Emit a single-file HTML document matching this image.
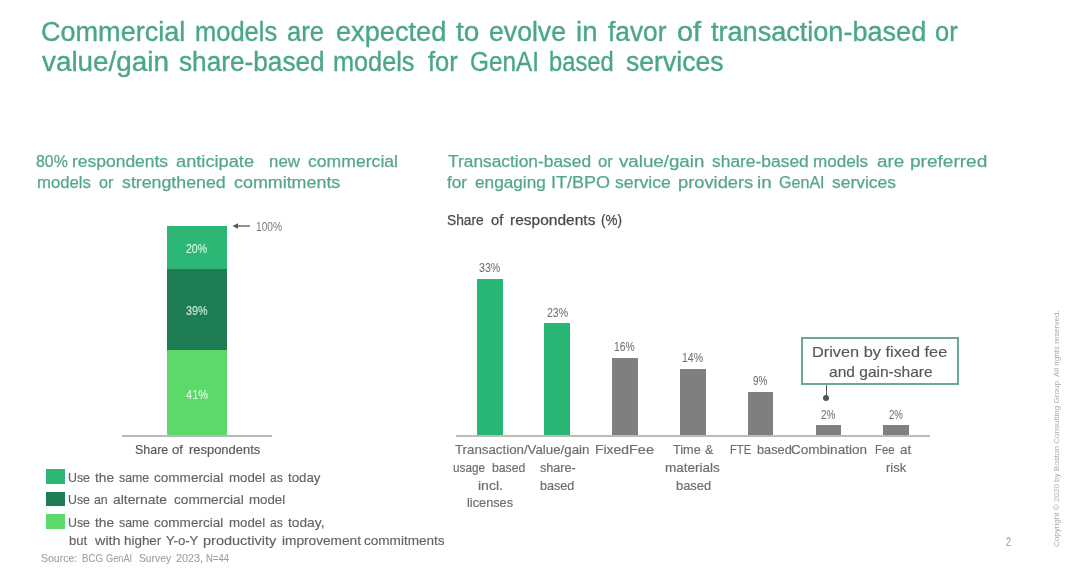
<!DOCTYPE html>
<html><head><meta charset="utf-8">
<style>
html,body{margin:0;padding:0;background:#fff;}
body{width:1080px;height:577px;position:relative;overflow:hidden;filter:blur(0.4px);font-family:"Liberation Sans",sans-serif;}
.t{position:absolute;white-space:pre;transform-origin:0 0;}
.r{position:absolute;}
</style></head><body>
<!-- left stacked bar -->
<div class="r" style="left:167.4px;top:225.8px;width:59.6px;height:43.5px;background:#2db775"></div>
<div class="r" style="left:167.4px;top:269.3px;width:59.6px;height:80.3px;background:#1e7d55"></div>
<div class="r" style="left:167.4px;top:349.6px;width:59.6px;height:86px;background:#5dd86a"></div>
<div class="r" style="left:122px;top:435px;width:149.5px;height:1.5px;background:#b8b8b8"></div>
<svg class="r" style="left:228px;top:220px" width="26" height="12" viewBox="0 0 26 12">
  <line x1="6" y1="6" x2="22" y2="6" stroke="#555" stroke-width="1.3"/>
  <polygon points="4.5,6 10,3.2 10,8.8" fill="#555"/>
</svg>
<!-- right bars -->
<div class="r" style="left:476.8px;top:278.7px;width:25.9px;height:157.1px;background:#27b673"></div>
<div class="r" style="left:544.2px;top:323.3px;width:25.9px;height:112.5px;background:#27b673"></div>
<div class="r" style="left:612.4px;top:357.6px;width:25.7px;height:78.2px;background:#7f7f7f"></div>
<div class="r" style="left:680.1px;top:368.7px;width:25.7px;height:67.1px;background:#7f7f7f"></div>
<div class="r" style="left:748.4px;top:391.6px;width:25.1px;height:44.2px;background:#7f7f7f"></div>
<div class="r" style="left:815.7px;top:425.3px;width:25.4px;height:10.5px;background:#7f7f7f"></div>
<div class="r" style="left:883.4px;top:425.3px;width:25.8px;height:10.5px;background:#7f7f7f"></div>
<div class="r" style="left:456px;top:435.2px;width:474px;height:1.5px;background:#bcbcbc"></div>
<!-- callout -->
<div class="r" style="left:801px;top:337px;width:154px;height:44px;border:2px solid #6aa898;"></div>
<div class="r" style="left:825.6px;top:385px;width:1.4px;height:11px;background:#5a5a5a"></div>
<div class="r" style="left:823.1px;top:394.6px;width:6.2px;height:6.2px;border-radius:50%;background:#555"></div>
<!-- legend squares -->
<div class="r" style="left:46px;top:469.3px;width:18.6px;height:14.4px;background:#2db775"></div>
<div class="r" style="left:46px;top:491.5px;width:18.6px;height:14.4px;background:#1e7d55"></div>
<div class="r" style="left:46px;top:514.2px;width:18.6px;height:14.4px;background:#5dd86a"></div>
<!-- copyright -->
<div class="t" style="left:1053px;top:547px;font-size:7.5px;line-height:7.5px;color:#ababab;transform:rotate(-90deg) scaleX(1.075);transform-origin:0 0;">Copyright © 2020 by Boston Consulting Group. All rights reserved.</div>
<div class="t" style="left:40.70px;top:19.44px;font-size:27px;line-height:27px;color:#4ba785;transform:scaleX(1.0020);-webkit-text-stroke:0.38px #4ba785;">Commercial</div>
<div class="t" style="left:195.06px;top:19.44px;font-size:27px;line-height:27px;color:#4ba785;transform:scaleX(0.9434);-webkit-text-stroke:0.38px #4ba785;">models</div>
<div class="t" style="left:287.35px;top:19.44px;font-size:27px;line-height:27px;color:#4ba785;transform:scaleX(0.9458);-webkit-text-stroke:0.38px #4ba785;">are</div>
<div class="t" style="left:335.69px;top:19.44px;font-size:27px;line-height:27px;color:#4ba785;transform:scaleX(1.0068);-webkit-text-stroke:0.38px #4ba785;">expected</div>
<div class="t" style="left:456.00px;top:19.44px;font-size:27px;line-height:27px;color:#4ba785;transform:scaleX(1.0371);-webkit-text-stroke:0.38px #4ba785;">to</div>
<div class="t" style="left:489.01px;top:19.44px;font-size:27px;line-height:27px;color:#4ba785;transform:scaleX(0.9864);-webkit-text-stroke:0.38px #4ba785;">evolve</div>
<div class="t" style="left:576.28px;top:19.44px;font-size:27px;line-height:27px;color:#4ba785;transform:scaleX(1.0211);-webkit-text-stroke:0.38px #4ba785;">in</div>
<div class="t" style="left:608.30px;top:19.44px;font-size:27px;line-height:27px;color:#4ba785;transform:scaleX(0.9728);-webkit-text-stroke:0.38px #4ba785;">favor</div>
<div class="t" style="left:676.78px;top:19.44px;font-size:27px;line-height:27px;color:#4ba785;transform:scaleX(1.0715);-webkit-text-stroke:0.38px #4ba785;">of</div>
<div class="t" style="left:711.00px;top:19.44px;font-size:27px;line-height:27px;color:#4ba785;transform:scaleX(1.0027);-webkit-text-stroke:0.38px #4ba785;">transaction-based</div>
<div class="t" style="left:935.16px;top:19.44px;font-size:27px;line-height:27px;color:#4ba785;transform:scaleX(0.9428);-webkit-text-stroke:0.38px #4ba785;">or</div>
<div class="t" style="left:41.76px;top:49.44px;font-size:27px;line-height:27px;color:#4ba785;transform:scaleX(1.0311);-webkit-text-stroke:0.38px #4ba785;">value/gain</div>
<div class="t" style="left:179.30px;top:49.44px;font-size:27px;line-height:27px;color:#4ba785;transform:scaleX(0.9706);-webkit-text-stroke:0.38px #4ba785;">share-based</div>
<div class="t" style="left:333.46px;top:49.44px;font-size:27px;line-height:27px;color:#4ba785;transform:scaleX(0.9353);-webkit-text-stroke:0.38px #4ba785;">models</div>
<div class="t" style="left:428.00px;top:49.44px;font-size:27px;line-height:27px;color:#4ba785;transform:scaleX(0.9455);-webkit-text-stroke:0.38px #4ba785;">for</div>
<div class="t" style="left:469.80px;top:49.44px;font-size:27px;line-height:27px;color:#4ba785;transform:scaleX(0.9008);-webkit-text-stroke:0.38px #4ba785;">GenAI</div>
<div class="t" style="left:549.45px;top:49.44px;font-size:27px;line-height:27px;color:#4ba785;transform:scaleX(0.8783);-webkit-text-stroke:0.38px #4ba785;">based</div>
<div class="t" style="left:626.30px;top:49.44px;font-size:27px;line-height:27px;color:#4ba785;transform:scaleX(0.9846);-webkit-text-stroke:0.38px #4ba785;">services</div>
<div class="t" style="left:36.04px;top:153.66px;font-size:16px;line-height:16px;color:#54a789;transform:scaleX(0.9943);-webkit-text-stroke:0.25px #54a789;">80%</div>
<div class="t" style="left:71.91px;top:153.66px;font-size:16px;line-height:16px;color:#54a789;transform:scaleX(1.0912);-webkit-text-stroke:0.25px #54a789;">respondents</div>
<div class="t" style="left:176.20px;top:153.66px;font-size:16px;line-height:16px;color:#54a789;transform:scaleX(1.1400);-webkit-text-stroke:0.25px #54a789;">anticipate</div>
<div class="t" style="left:268.54px;top:153.66px;font-size:16px;line-height:16px;color:#54a789;transform:scaleX(1.0557);-webkit-text-stroke:0.25px #54a789;">new</div>
<div class="t" style="left:308.20px;top:153.66px;font-size:16px;line-height:16px;color:#54a789;transform:scaleX(1.1005);-webkit-text-stroke:0.25px #54a789;">commercial</div>
<div class="t" style="left:36.75px;top:174.66px;font-size:16px;line-height:16px;color:#54a789;transform:scaleX(1.0459);-webkit-text-stroke:0.25px #54a789;">models</div>
<div class="t" style="left:99.36px;top:174.66px;font-size:16px;line-height:16px;color:#54a789;transform:scaleX(1.0061);-webkit-text-stroke:0.25px #54a789;">or</div>
<div class="t" style="left:121.70px;top:174.66px;font-size:16px;line-height:16px;color:#54a789;transform:scaleX(1.1102);-webkit-text-stroke:0.25px #54a789;">strengthened</div>
<div class="t" style="left:234.40px;top:174.66px;font-size:16px;line-height:16px;color:#54a789;transform:scaleX(1.1175);-webkit-text-stroke:0.25px #54a789;">commitments</div>
<div class="t" style="left:447.80px;top:153.66px;font-size:16px;line-height:16px;color:#54a789;transform:scaleX(1.0845);-webkit-text-stroke:0.25px #54a789;">Transaction-based</div>
<div class="t" style="left:598.20px;top:153.66px;font-size:16px;line-height:16px;color:#54a789;transform:scaleX(1.0404);-webkit-text-stroke:0.25px #54a789;">or</div>
<div class="t" style="left:619.40px;top:153.66px;font-size:16px;line-height:16px;color:#54a789;transform:scaleX(1.1701);-webkit-text-stroke:0.25px #54a789;">value/gain</div>
<div class="t" style="left:712.00px;top:153.66px;font-size:16px;line-height:16px;color:#54a789;transform:scaleX(1.0881);-webkit-text-stroke:0.25px #54a789;">share-based</div>
<div class="t" style="left:813.43px;top:153.66px;font-size:16px;line-height:16px;color:#54a789;transform:scaleX(1.0677);-webkit-text-stroke:0.25px #54a789;">models</div>
<div class="t" style="left:877.00px;top:153.66px;font-size:16px;line-height:16px;color:#54a789;transform:scaleX(1.1754);-webkit-text-stroke:0.25px #54a789;">are</div>
<div class="t" style="left:909.81px;top:153.66px;font-size:16px;line-height:16px;color:#54a789;transform:scaleX(1.1900);-webkit-text-stroke:0.25px #54a789;">preferred</div>
<div class="t" style="left:447.00px;top:174.66px;font-size:16px;line-height:16px;color:#54a789;transform:scaleX(1.0753);-webkit-text-stroke:0.25px #54a789;">for</div>
<div class="t" style="left:474.80px;top:174.66px;font-size:16px;line-height:16px;color:#54a789;transform:scaleX(1.0748);-webkit-text-stroke:0.25px #54a789;">engaging</div>
<div class="t" style="left:550.87px;top:174.66px;font-size:16px;line-height:16px;color:#54a789;transform:scaleX(1.1253);-webkit-text-stroke:0.25px #54a789;">IT/BPO</div>
<div class="t" style="left:615.00px;top:174.66px;font-size:16px;line-height:16px;color:#54a789;transform:scaleX(1.1028);-webkit-text-stroke:0.25px #54a789;">service</div>
<div class="t" style="left:677.96px;top:174.66px;font-size:16px;line-height:16px;color:#54a789;transform:scaleX(1.1434);-webkit-text-stroke:0.25px #54a789;">providers</div>
<div class="t" style="left:757.34px;top:174.66px;font-size:16px;line-height:16px;color:#54a789;transform:scaleX(1.1799);-webkit-text-stroke:0.25px #54a789;">in</div>
<div class="t" style="left:779.13px;top:174.66px;font-size:16px;line-height:16px;color:#54a789;transform:scaleX(1.0051);-webkit-text-stroke:0.25px #54a789;">GenAI</div>
<div class="t" style="left:831.90px;top:174.66px;font-size:16px;line-height:16px;color:#54a789;transform:scaleX(1.0890);-webkit-text-stroke:0.25px #54a789;">services</div>
<div class="t" style="left:447.00px;top:212.75px;font-size:14px;line-height:14px;color:#4a4a4a;transform:scaleX(0.9848);-webkit-text-stroke:0.25px #4a4a4a;">Share</div>
<div class="t" style="left:491.00px;top:212.75px;font-size:14px;line-height:14px;color:#4a4a4a;transform:scaleX(1.0521);-webkit-text-stroke:0.25px #4a4a4a;">of</div>
<div class="t" style="left:510.40px;top:212.75px;font-size:14px;line-height:14px;color:#4a4a4a;transform:scaleX(1.1083);-webkit-text-stroke:0.25px #4a4a4a;">respondents</div>
<div class="t" style="left:600.59px;top:212.75px;font-size:14px;line-height:14px;color:#4a4a4a;transform:scaleX(0.9623);-webkit-text-stroke:0.25px #4a4a4a;">(%)</div>
<div class="t" style="left:185.80px;top:241.80px;font-size:13px;line-height:13px;color:#dcf7e8;transform:scaleX(0.8088);-webkit-text-stroke:0.1px #dcf7e8;">20%</div>
<div class="t" style="left:185.80px;top:304.30px;font-size:13px;line-height:13px;color:#cdf0dd;transform:scaleX(0.8239);-webkit-text-stroke:0.1px #cdf0dd;">39%</div>
<div class="t" style="left:185.70px;top:388.10px;font-size:13px;line-height:13px;color:#e2f8e4;transform:scaleX(0.8541);-webkit-text-stroke:0.1px #e2f8e4;">41%</div>
<div class="t" style="left:255.50px;top:220.00px;font-size:13px;line-height:13px;color:#808080;transform:scaleX(0.7866);-webkit-text-stroke:0.05px #808080;">100%</div>
<div class="t" style="left:134.75px;top:442.77px;font-size:13.5px;line-height:13.5px;color:#5a5a5a;transform:scaleX(0.9221);-webkit-text-stroke:0.20px #5a5a5a;">Share</div>
<div class="t" style="left:171.90px;top:442.77px;font-size:13.5px;line-height:13.5px;color:#5a5a5a;transform:scaleX(0.9732);-webkit-text-stroke:0.20px #5a5a5a;">of</div>
<div class="t" style="left:188.75px;top:442.77px;font-size:13.5px;line-height:13.5px;color:#5a5a5a;transform:scaleX(0.9584);-webkit-text-stroke:0.20px #5a5a5a;">respondents</div>
<div class="t" style="left:479.30px;top:261.10px;font-size:13px;line-height:13px;color:#707070;transform:scaleX(0.8201);-webkit-text-stroke:0.05px #707070;">33%</div>
<div class="t" style="left:546.80px;top:306.10px;font-size:13px;line-height:13px;color:#707070;transform:scaleX(0.8125);-webkit-text-stroke:0.05px #707070;">23%</div>
<div class="t" style="left:614.30px;top:339.90px;font-size:13px;line-height:13px;color:#707070;transform:scaleX(0.7937);-webkit-text-stroke:0.05px #707070;">16%</div>
<div class="t" style="left:682.40px;top:350.90px;font-size:13px;line-height:13px;color:#707070;transform:scaleX(0.8125);-webkit-text-stroke:0.05px #707070;">14%</div>
<div class="t" style="left:753.10px;top:373.80px;font-size:13px;line-height:13px;color:#707070;transform:scaleX(0.7644);-webkit-text-stroke:0.05px #707070;">9%</div>
<div class="t" style="left:821.10px;top:407.70px;font-size:13px;line-height:13px;color:#707070;transform:scaleX(0.7644);-webkit-text-stroke:0.05px #707070;">2%</div>
<div class="t" style="left:888.80px;top:407.70px;font-size:13px;line-height:13px;color:#707070;transform:scaleX(0.7384);-webkit-text-stroke:0.05px #707070;">2%</div>
<div class="t" style="left:454.80px;top:442.87px;font-size:13.5px;line-height:13.5px;color:#6e6e6e;transform:scaleX(0.9840);-webkit-text-stroke:0.2px #6e6e6e;">Transaction/Value/gain</div>
<div class="t" style="left:453.40px;top:460.67px;font-size:13.5px;line-height:13.5px;color:#6e6e6e;transform:scaleX(0.8684);-webkit-text-stroke:0.20px #6e6e6e;">usage</div>
<div class="t" style="left:491.60px;top:460.67px;font-size:13.5px;line-height:13.5px;color:#6e6e6e;transform:scaleX(0.9070);-webkit-text-stroke:0.20px #6e6e6e;">based</div>
<div class="t" style="left:477.50px;top:478.67px;font-size:13.5px;line-height:13.5px;color:#6e6e6e;transform:scaleX(1.0406);-webkit-text-stroke:0.2px #6e6e6e;">incl.</div>
<div class="t" style="left:466.70px;top:496.47px;font-size:13.5px;line-height:13.5px;color:#6e6e6e;transform:scaleX(0.9445);-webkit-text-stroke:0.2px #6e6e6e;">licenses</div>
<div class="t" style="left:539.70px;top:460.67px;font-size:13.5px;line-height:13.5px;color:#6e6e6e;transform:scaleX(0.9346);-webkit-text-stroke:0.2px #6e6e6e;">share-</div>
<div class="t" style="left:540.30px;top:478.67px;font-size:13.5px;line-height:13.5px;color:#6e6e6e;transform:scaleX(0.9345);-webkit-text-stroke:0.2px #6e6e6e;">based</div>
<div class="t" style="left:594.77px;top:442.87px;font-size:13.5px;line-height:13.5px;color:#6e6e6e;transform:scaleX(1.0316);-webkit-text-stroke:0.20px #6e6e6e;">Fixed</div>
<div class="t" style="left:629.12px;top:442.87px;font-size:13.5px;line-height:13.5px;color:#6e6e6e;transform:scaleX(1.0756);-webkit-text-stroke:0.20px #6e6e6e;">Fee</div>
<div class="t" style="left:673.00px;top:442.87px;font-size:13.5px;line-height:13.5px;color:#6e6e6e;transform:scaleX(0.9382);-webkit-text-stroke:0.20px #6e6e6e;">Time</div>
<div class="t" style="left:705.27px;top:442.87px;font-size:13.5px;line-height:13.5px;color:#6e6e6e;transform:scaleX(0.9185);-webkit-text-stroke:0.20px #6e6e6e;">&amp;</div>
<div class="t" style="left:665.00px;top:460.67px;font-size:13.5px;line-height:13.5px;color:#6e6e6e;transform:scaleX(0.9997);-webkit-text-stroke:0.2px #6e6e6e;">materials</div>
<div class="t" style="left:675.60px;top:478.67px;font-size:13.5px;line-height:13.5px;color:#6e6e6e;transform:scaleX(0.9566);-webkit-text-stroke:0.2px #6e6e6e;">based</div>
<div class="t" style="left:729.77px;top:442.87px;font-size:13.5px;line-height:13.5px;color:#6e6e6e;transform:scaleX(0.8288);-webkit-text-stroke:0.20px #6e6e6e;">FTE</div>
<div class="t" style="left:757.40px;top:442.87px;font-size:13.5px;line-height:13.5px;color:#6e6e6e;transform:scaleX(0.9456);-webkit-text-stroke:0.20px #6e6e6e;">based</div>
<div class="t" style="left:790.60px;top:442.87px;font-size:13.5px;line-height:13.5px;color:#6e6e6e;transform:scaleX(1.0029);-webkit-text-stroke:0.2px #6e6e6e;">Combination</div>
<div class="t" style="left:874.50px;top:442.87px;font-size:13.5px;line-height:13.5px;color:#6e6e6e;transform:scaleX(0.8381);-webkit-text-stroke:0.20px #6e6e6e;">Fee</div>
<div class="t" style="left:900.34px;top:442.87px;font-size:13.5px;line-height:13.5px;color:#6e6e6e;transform:scaleX(0.9838);-webkit-text-stroke:0.20px #6e6e6e;">at</div>
<div class="t" style="left:886.00px;top:460.67px;font-size:13.5px;line-height:13.5px;color:#6e6e6e;transform:scaleX(0.9602);-webkit-text-stroke:0.2px #6e6e6e;">risk</div>
<div class="t" style="left:812.41px;top:344.30px;font-size:15px;line-height:15px;color:#575757;transform:scaleX(1.0888);-webkit-text-stroke:0.15px #575757;">Driven by fixed fee</div>
<div class="t" style="left:828.70px;top:363.90px;font-size:15px;line-height:15px;color:#575757;transform:scaleX(1.0358);-webkit-text-stroke:0.15px #575757;">and gain-share</div>
<div class="t" style="left:68.25px;top:471.30px;font-size:13px;line-height:13px;color:#636363;transform:scaleX(0.9503);-webkit-text-stroke:0.15px #636363;">Use</div>
<div class="t" style="left:95.00px;top:471.30px;font-size:13px;line-height:13px;color:#636363;transform:scaleX(1.0593);-webkit-text-stroke:0.15px #636363;">the</div>
<div class="t" style="left:119.40px;top:471.30px;font-size:13px;line-height:13px;color:#636363;transform:scaleX(0.9506);-webkit-text-stroke:0.15px #636363;">same</div>
<div class="t" style="left:153.90px;top:471.30px;font-size:13px;line-height:13px;color:#636363;transform:scaleX(1.0426);-webkit-text-stroke:0.15px #636363;">commercial</div>
<div class="t" style="left:229.30px;top:471.30px;font-size:13px;line-height:13px;color:#636363;transform:scaleX(1.0220);-webkit-text-stroke:0.15px #636363;">model</div>
<div class="t" style="left:270.13px;top:471.30px;font-size:13px;line-height:13px;color:#636363;transform:scaleX(0.9229);-webkit-text-stroke:0.15px #636363;">as</div>
<div class="t" style="left:287.80px;top:471.30px;font-size:13px;line-height:13px;color:#636363;transform:scaleX(1.0216);-webkit-text-stroke:0.15px #636363;">today</div>
<div class="t" style="left:68.25px;top:492.80px;font-size:13px;line-height:13px;color:#636363;transform:scaleX(0.9503);-webkit-text-stroke:0.15px #636363;">Use</div>
<div class="t" style="left:94.37px;top:492.80px;font-size:13px;line-height:13px;color:#636363;transform:scaleX(0.9465);-webkit-text-stroke:0.15px #636363;">an</div>
<div class="t" style="left:113.00px;top:492.80px;font-size:13px;line-height:13px;color:#636363;transform:scaleX(1.0663);-webkit-text-stroke:0.15px #636363;">alternate</div>
<div class="t" style="left:173.70px;top:492.80px;font-size:13px;line-height:13px;color:#636363;transform:scaleX(1.0486);-webkit-text-stroke:0.15px #636363;">commercial</div>
<div class="t" style="left:249.20px;top:492.80px;font-size:13px;line-height:13px;color:#636363;transform:scaleX(1.0220);-webkit-text-stroke:0.15px #636363;">model</div>
<div class="t" style="left:68.25px;top:515.80px;font-size:13px;line-height:13px;color:#636363;transform:scaleX(0.9503);-webkit-text-stroke:0.15px #636363;">Use</div>
<div class="t" style="left:95.00px;top:515.80px;font-size:13px;line-height:13px;color:#636363;transform:scaleX(1.0593);-webkit-text-stroke:0.15px #636363;">the</div>
<div class="t" style="left:119.40px;top:515.80px;font-size:13px;line-height:13px;color:#636363;transform:scaleX(0.9506);-webkit-text-stroke:0.15px #636363;">same</div>
<div class="t" style="left:153.90px;top:515.80px;font-size:13px;line-height:13px;color:#636363;transform:scaleX(1.0426);-webkit-text-stroke:0.15px #636363;">commercial</div>
<div class="t" style="left:229.30px;top:515.80px;font-size:13px;line-height:13px;color:#636363;transform:scaleX(1.0220);-webkit-text-stroke:0.15px #636363;">model</div>
<div class="t" style="left:270.10px;top:515.80px;font-size:13px;line-height:13px;color:#636363;transform:scaleX(0.9281);-webkit-text-stroke:0.15px #636363;">as</div>
<div class="t" style="left:287.80px;top:515.80px;font-size:13px;line-height:13px;color:#636363;transform:scaleX(1.0580);-webkit-text-stroke:0.15px #636363;">today,</div>
<div class="t" style="left:69.20px;top:533.60px;font-size:13px;line-height:13px;color:#636363;transform:scaleX(1.0076);-webkit-text-stroke:0.15px #636363;">but</div>
<div class="t" style="left:95.21px;top:533.60px;font-size:13px;line-height:13px;color:#636363;transform:scaleX(1.1093);-webkit-text-stroke:0.15px #636363;">with</div>
<div class="t" style="left:123.70px;top:533.60px;font-size:13px;line-height:13px;color:#636363;transform:scaleX(1.0324);-webkit-text-stroke:0.15px #636363;">higher</div>
<div class="t" style="left:165.60px;top:533.60px;font-size:13px;line-height:13px;color:#636363;transform:scaleX(1.0103);-webkit-text-stroke:0.15px #636363;">Y-o-Y</div>
<div class="t" style="left:202.80px;top:533.60px;font-size:13px;line-height:13px;color:#636363;transform:scaleX(1.1155);-webkit-text-stroke:0.15px #636363;">productivity</div>
<div class="t" style="left:281.70px;top:533.60px;font-size:13px;line-height:13px;color:#636363;transform:scaleX(1.0513);-webkit-text-stroke:0.15px #636363;">improvement</div>
<div class="t" style="left:363.90px;top:533.60px;font-size:13px;line-height:13px;color:#636363;transform:scaleX(1.0426);-webkit-text-stroke:0.15px #636363;">commitments</div>
<div class="t" style="left:40.60px;top:553.19px;font-size:11px;line-height:11px;color:#a0a0a0;transform:scaleX(0.9537);-webkit-text-stroke:0.10px #a0a0a0;">Source:</div>
<div class="t" style="left:82.30px;top:553.19px;font-size:11px;line-height:11px;color:#a0a0a0;transform:scaleX(0.8763);-webkit-text-stroke:0.10px #a0a0a0;">BCG</div>
<div class="t" style="left:106.31px;top:553.19px;font-size:11px;line-height:11px;color:#a0a0a0;transform:scaleX(0.8379);-webkit-text-stroke:0.10px #a0a0a0;">GenAI</div>
<div class="t" style="left:138.70px;top:553.19px;font-size:11px;line-height:11px;color:#a0a0a0;transform:scaleX(0.9356);-webkit-text-stroke:0.10px #a0a0a0;">Survey</div>
<div class="t" style="left:175.80px;top:553.19px;font-size:11px;line-height:11px;color:#a0a0a0;transform:scaleX(0.9829);-webkit-text-stroke:0.10px #a0a0a0;">2023,</div>
<div class="t" style="left:206.40px;top:553.19px;font-size:11px;line-height:11px;color:#a0a0a0;transform:scaleX(0.8646);-webkit-text-stroke:0.10px #a0a0a0;">N=44</div>
<div class="t" style="left:1006.10px;top:536.24px;font-size:12px;line-height:12px;color:#a5a5a5;transform:scaleX(0.7571);-webkit-text-stroke:0.2px #a5a5a5;">2</div>
</body></html>
